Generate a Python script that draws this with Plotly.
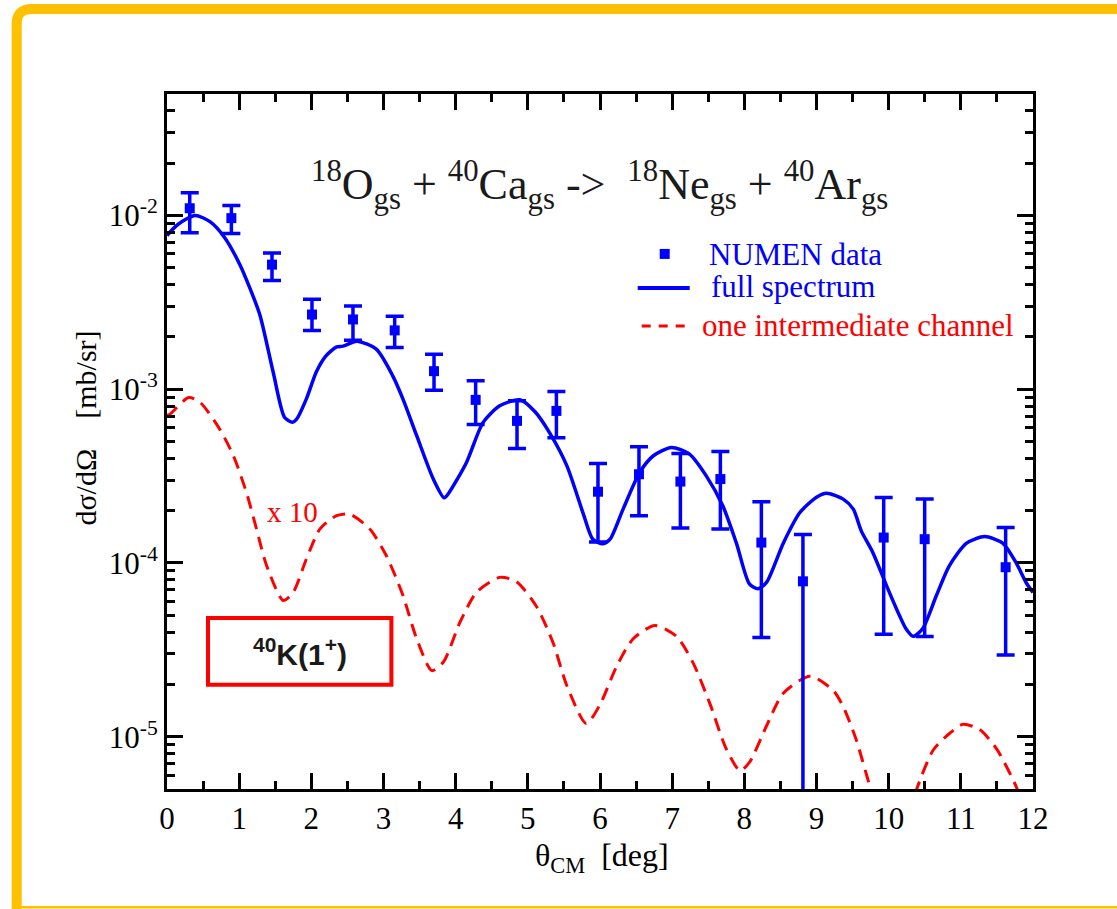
import plotly.graph_objects as go

# ---- measured angular distribution (NUMEN data) ----
theta = [0.315, 0.892, 1.455, 2.009, 2.577, 3.155, 3.700, 4.277, 4.850, 5.396,
         5.972, 6.540, 7.114, 7.668, 8.236, 8.812, 9.931, 10.499, 11.621]
dsig = [1.10e-2, 9.65e-3, 5.21e-3, 2.69e-3, 2.52e-3, 2.18e-3, 1.27e-3, 8.68e-4, 6.57e-4, 7.50e-4,
        2.57e-4, 3.24e-4, 2.94e-4, 3.04e-4, 1.31e-4, 7.84e-5, 1.40e-4, 1.37e-4, 9.45e-5]
dsig_hi = [1.35e-2, 1.14e-2, 6.07e-3, 3.29e-3, 3.01e-3, 2.63e-3, 1.59e-3, 1.12e-3, 8.57e-4, 9.70e-4,
           3.74e-4, 4.67e-4, 4.27e-4, 4.38e-4, 2.25e-4, 1.46e-4, 2.38e-4, 2.33e-4, 1.60e-4]
dsig_lo = [7.96e-3, 7.88e-3, 4.22e-3, 2.18e-3, 1.91e-3, 1.74e-3, 9.87e-4, 6.26e-4, 4.56e-4, 5.25e-4,
           1.32e-4, 1.87e-4, 1.59e-4, 1.57e-4, 3.72e-5, 1.0e-6, 3.89e-5, 3.77e-5, 2.95e-5]

# ---- full spectrum calculation ----
theta_full = [0.00, 0.15, 0.39, 0.60, 0.80, 1.01, 1.15, 1.29, 1.47, 1.63, 1.74, 1.80, 1.93, 2.07,
              2.20, 2.35, 2.44, 2.63, 2.90, 3.13, 3.27, 3.46, 3.69, 3.84, 3.90, 4.15, 4.38, 4.61,
              4.89, 5.10, 5.30, 5.54, 5.77, 5.90, 6.04, 6.14, 6.32, 6.55, 6.74, 6.99, 7.24, 7.47,
              7.70, 7.89, 8.07, 8.19, 8.31, 8.54, 8.77, 9.00, 9.14, 9.37, 9.51, 9.62, 9.78, 9.97,
              10.15, 10.24, 10.34, 10.47, 10.66, 10.84, 11.08, 11.33, 11.58, 11.77, 11.91, 12.00]
full_spec = [7.67e-3, 8.87e-3, 1.00e-2, 9.18e-3, 7.45e-3, 5.21e-3, 3.80e-3, 2.65e-3, 1.26e-3, 6.87e-4,
             6.46e-4, 6.76e-4, 8.77e-4, 1.26e-3, 1.55e-3, 1.75e-3, 1.77e-3, 1.89e-3, 1.70e-3, 1.19e-3,
             8.77e-4, 5.40e-4, 3.04e-4, 2.37e-4, 2.51e-4, 3.79e-4, 6.44e-4, 8.02e-4, 8.69e-4, 7.41e-4,
             5.62e-4, 3.63e-4, 1.91e-4, 1.37e-4, 1.29e-4, 1.37e-4, 2.04e-4, 3.32e-4, 4.14e-4, 4.62e-4,
             4.23e-4, 3.18e-4, 2.14e-4, 1.30e-4, 7.57e-5, 7.10e-5, 7.76e-5, 1.30e-4, 1.95e-4, 2.39e-4,
             2.52e-4, 2.33e-4, 2.04e-4, 1.53e-4, 1.15e-4, 7.41e-5, 4.98e-5, 4.18e-5, 3.78e-5, 4.18e-5,
             6.47e-5, 9.62e-5, 1.30e-4, 1.42e-4, 1.30e-4, 9.95e-5, 7.64e-5, 6.76e-5]

# ---- one intermediate channel (40K 1+), scaled x10 ----
theta_one = [0.00, 0.04, 0.30, 0.46, 0.73, 0.92, 1.10, 1.24, 1.38, 1.61, 1.75, 1.93, 2.12, 2.35,
             2.53, 2.81, 3.04, 3.27, 3.46, 3.67, 3.83, 4.06, 4.29, 4.61, 4.84, 5.12, 5.35, 5.54,
             5.81, 6.00, 6.23, 6.46, 6.76, 7.06, 7.29, 7.52, 7.75, 7.94, 8.07, 8.31, 8.54, 8.91,
             9.23, 9.37, 9.55, 9.74, 9.95, 10.15, 10.39, 10.62, 10.85, 11.03, 11.26, 11.50, 11.77, 12.00]
one_channel = [7.08e-4, 7.18e-4, 8.95e-4, 8.39e-4, 5.89e-4, 4.14e-4, 2.55e-4, 1.57e-4, 9.66e-5, 6.08e-5,
               6.79e-5, 1.05e-4, 1.57e-4, 1.87e-4, 1.91e-4, 1.57e-4, 1.10e-4, 6.49e-5, 3.66e-5, 2.40e-5,
               2.69e-5, 4.56e-5, 6.79e-5, 8.26e-5, 7.82e-5, 5.62e-5, 3.47e-5, 1.97e-5, 1.19e-5, 1.53e-5,
               2.54e-5, 3.66e-5, 4.37e-5, 3.78e-5, 2.66e-5, 1.56e-5, 8.51e-6, 6.37e-6, 7.11e-6, 1.16e-5,
               1.78e-5, 2.23e-5, 1.85e-5, 1.49e-5, 9.62e-6, 5.18e-6, 2.82e-6, 2.24e-6, 5.01e-6, 8.41e-6,
               1.05e-5, 1.18e-5, 1.10e-5, 8.45e-6, 5.13e-6, 2.82e-6]

x_ticks = list(range(0, 13))
y_tickvals = [1e-5, 1e-4, 1e-3, 1e-2]
y_ticktext = ["10<sup>-5</sup>", "10<sup>-4</sup>", "10<sup>-3</sup>", "10<sup>-2</sup>"]

BLUE = "#0000FF"
RED = "#FF0000"
GOLD = "#FFC000"
SERIF = "Liberation Serif, Times New Roman, DejaVu Serif, serif"
SANS = "Liberation Sans, Arial, DejaVu Sans, sans-serif"

W, H = 1117, 909
L, R, T, B = 167.3, 1033.3, 94.0, 789.3


def px(X):
    return (X - L) / (R - L)


def py(Y):
    return (B - Y) / (B - T)


fig = go.Figure()

fig.add_trace(go.Scatter(
    x=theta_one, y=one_channel, mode="lines",
    line=dict(color=RED, width=3, dash="13px,8px", shape="spline", smoothing=0.7),
    hoverinfo="skip"))

fig.add_trace(go.Scatter(
    x=theta_full, y=full_spec, mode="lines",
    line=dict(color=BLUE, width=3.5, shape="spline", smoothing=0.7),
    hoverinfo="skip"))

fig.add_trace(go.Scatter(
    x=theta, y=dsig, mode="markers",
    marker=dict(symbol="square", size=10, color=BLUE),
    error_y=dict(type="data", symmetric=False,
                 array=[h - v for h, v in zip(dsig_hi, dsig)],
                 arrayminus=[v - l for v, l in zip(dsig, dsig_lo)],
                 color=BLUE, thickness=3.5, width=9)))

axis_common = dict(
    showline=True, linewidth=3, linecolor="black", mirror="ticks",
    ticks="inside", ticklen=16, tickwidth=3, tickcolor="black",
    showgrid=False, zeroline=False,
    tickfont=dict(family=SERIF, size=31, color="black"),
)

fig.update_xaxes(range=[0, 12], tickvals=x_ticks, ticktext=[str(v) for v in x_ticks],
                 minor=dict(dtick=0.5, ticks="inside", ticklen=8, tickwidth=3,
                            tickcolor="black", showgrid=False),
                 **axis_common)

minor_y = [k * 10.0 ** e for e in range(-6, -1) for k in range(2, 10)]
fig.update_yaxes(type="log", range=[-5.30103, -1.30103],
                 tickvals=y_tickvals, ticktext=y_ticktext,
                 minor=dict(tickvals=minor_y, ticks="inside", ticklen=8, tickwidth=3,
                            tickcolor="black", showgrid=False),
                 **axis_common)

shapes = []
# legend samples
shapes.append(dict(type="rect", xref="paper", yref="paper",
                   x0=px(660), x1=px(670), y0=py(259), y1=py(249),
                   fillcolor=BLUE, line=dict(width=0)))
shapes.append(dict(type="line", xref="paper", yref="paper",
                   x0=px(638), x1=px(690), y0=py(288), y1=py(288),
                   line=dict(color=BLUE, width=4)))
shapes.append(dict(type="line", xref="paper", yref="paper",
                   x0=px(642), x1=px(690), y0=py(326), y1=py(326),
                   line=dict(color=RED, width=3, dash="9px,8px")))
# channel label box
shapes.append(dict(type="rect", xref="paper", yref="paper",
                   x0=px(208.3), x1=px(391.7), y0=py(685), y1=py(618.3),
                   line=dict(color=RED, width=4), fillcolor="rgba(0,0,0,0)"))
# slide frame
frame_path = "M {a},{b} L {a},{c} Q {a},{d} {e},{d} L {f},{d}".format(
    a=px(17), b=py(912), c=py(24), d=py(9), e=px(32), f=px(1125))
shapes.append(dict(type="path", xref="paper", yref="paper", path=frame_path,
                   line=dict(color=GOLD, width=10)))
shapes.append(dict(type="line", xref="paper", yref="paper",
                   x0=px(17), x1=px(1125), y0=py(907.5), y1=py(907.5),
                   line=dict(color=GOLD, width=2.5)))

NB = "\u00a0"
annotations = [
    dict(x=px(600), y=py(185), xref="paper", yref="paper", showarrow=False,
         xanchor="center", yanchor="middle",
         text=("<sup>18</sup>O<sub>gs</sub>" + NB + "+" + NB + "<sup>40</sup>Ca<sub>gs</sub>" + NB +
               "-&gt;" + NB * 2 +
               "<sup>18</sup>Ne<sub>gs</sub>" + NB + "+" + NB + "<sup>40</sup>Ar<sub>gs</sub>"),
         font=dict(family=SERIF, size=44, color="#1a1a1a")),
    dict(x=px(707), y=py(255), xref="paper", yref="paper", showarrow=False,
         xanchor="left", yanchor="middle", text="NUMEN data",
         font=dict(family=SERIF, size=31, color=BLUE)),
    dict(x=px(709), y=py(287), xref="paper", yref="paper", showarrow=False,
         xanchor="left", yanchor="middle", text="full spectrum",
         font=dict(family=SERIF, size=31, color=BLUE)),
    dict(x=px(700), y=py(326), xref="paper", yref="paper", showarrow=False,
         xanchor="left", yanchor="middle", text="one intermediate channel",
         font=dict(family=SERIF, size=31, color=RED)),
    dict(x=px(293), y=py(512), xref="paper", yref="paper", showarrow=False,
         xanchor="center", yanchor="middle", text="x 10",
         font=dict(family=SERIF, size=29, color=RED)),
    dict(x=px(300), y=py(652), xref="paper", yref="paper", showarrow=False,
         xanchor="center", yanchor="middle", text="<b><sup>40</sup>K(1<sup>+</sup>)</b>",
         font=dict(family=SANS, size=30, color="#1c1a17")),
    dict(x=px(86), y=py(428), xref="paper", yref="paper", showarrow=False,
         xanchor="center", yanchor="middle", textangle=-90,
         text="dσ/dΩ" + NB * 4 + "[mb/sr]",
         font=dict(family=SERIF, size=30, color="black")),
    dict(x=px(602), y=py(858), xref="paper", yref="paper", showarrow=False,
         xanchor="center", yanchor="middle",
         text="θ<sub>CM</sub>" + NB * 2 + "[deg]",
         font=dict(family=SERIF, size=32, color="black")),
]

fig.update_layout(
    width=W, height=H, autosize=False,
    margin=dict(l=L, r=W - R, t=T, b=H - B, pad=0),
    paper_bgcolor="white", plot_bgcolor="white",
    showlegend=False,
    shapes=shapes, annotations=annotations,
)

fig.write_html("out.html")
